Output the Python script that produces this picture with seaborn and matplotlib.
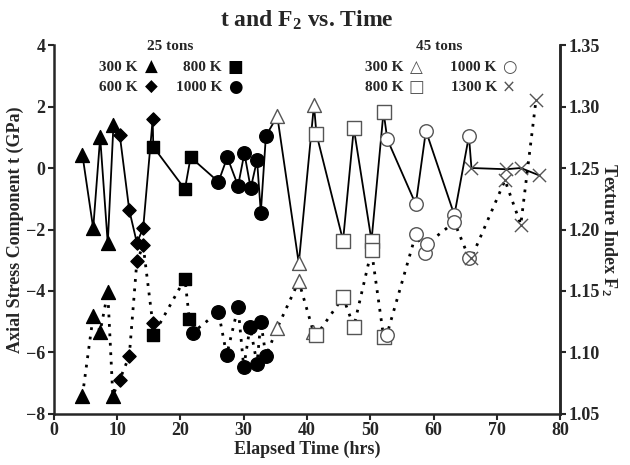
import numpy as np
import pandas as pd
import matplotlib
matplotlib.use('Agg')
import matplotlib.pyplot as plt
import seaborn as sns

# Axial stress t (GPa) vs elapsed time, with sample/temperature group
t_hrs = [4.5, 6.2, 7.3, 8.5, 9.4, 10.4, 11.9, 13.1, 14.1, 15.6, 15.7, 20.7, 21.6,
         26.0, 27.4, 29.1, 30.1, 31.1, 32.1, 32.7, 33.5,
         35.3, 38.7, 41.1, 41.5, 45.7, 47.4, 50.2, 52.1,
         52.7, 57.2, 58.8, 63.3, 65.6, 66.0, 71.5, 73.8, 76.6]
t_val = [0.42, -1.96, 1.0, -2.45, 1.40, 1.07, -1.37, -2.43, -1.96, 1.58, 0.69, -0.69, 0.35,
         -0.45, 0.35, -0.58, 0.48, -0.66, 0.26, -1.45, 1.04,
         1.69, -3.10, 2.05, 1.10, -2.36, 1.29, -2.36, 1.83,
         0.93, -1.18, 1.21, -1.53, 1.04, 0.0, -0.04, 0.0, -0.23]
t_grp = ['25-300'] * 5 + ['25-600'] * 5 + ['25-800'] * 3 + ['25-1000'] * 8 + \
        ['45-300'] * 3 + ['45-800'] * 5 + ['45-1000'] * 5 + ['45-1300'] * 4

# Texture index F2 vs elapsed time
f_hrs = [4.5, 6.2, 7.3, 8.5, 9.3, 10.4, 11.9, 13.1, 14.1, 15.6, 15.7, 20.7, 21.4,
         21.9, 26.0, 27.3, 29.1, 30.0, 31.0, 32.1, 32.7, 33.5,
         35.3, 38.7, 41.0, 41.5, 45.7, 47.4, 50.2, 52.1,
         52.6, 57.2, 58.6, 58.9, 63.3, 65.6, 66.0, 71.3, 73.8, 76.2]
f_val = [1.065, 1.130, 1.117, 1.149, 1.065, 1.078, 1.097, 1.174, 1.187, 1.124, 1.114, 1.160, 1.127,
         1.116, 1.133, 1.098, 1.137, 1.088, 1.121, 1.091, 1.125, 1.097,
         1.120, 1.158, 1.117, 1.114, 1.145, 1.121, 1.183, 1.113,
         1.114, 1.196, 1.181, 1.188, 1.206, 1.177, 1.177, 1.240, 1.204, 1.305]
f_grp = ['25-300'] * 5 + ['25-600'] * 5 + ['25-800'] * 3 + ['25-1000'] * 9 + \
        ['45-300'] * 3 + ['45-800'] * 5 + ['45-1000'] * 6 + ['45-1300'] * 4

# marker, face colour, edge colour, size
styles = {
    '25-300': ('^', 'black', 'black', 100),
    '25-600': ('D', 'black', 'black', 45),
    '25-800': ('s', 'black', 'black', 85),
    '25-1000': ('o', 'black', 'black', 95),
    '45-300': ('^', 'white', '#555555', 100),
    '45-800': ('s', 'white', '#555555', 90),
    '45-1000': ('o', 'white', '#555555', 95),
    '45-1300': ('x', '#555555', '#555555', 90),
}

df_t = pd.DataFrame({'hrs': t_hrs, 'val': t_val, 'grp': t_grp})
df_f = pd.DataFrame({'hrs': f_hrs, 'val': f_val, 'grp': f_grp})

sns.set_style('ticks')
plt.rcParams['font.family'] = ['Liberation Serif', 'DejaVu Sans']
plt.rcParams['font.weight'] = 'bold'
plt.rcParams['mathtext.fontset'] = 'custom'
plt.rcParams['mathtext.rm'] = 'Liberation Serif:bold'
plt.rcParams['mathtext.it'] = 'Liberation Serif:bold'

fig = plt.figure(figsize=(6.3, 4.65), dpi=100)
ax = fig.add_axes([0.0857, 0.1097, 0.8032, 0.7935])
ax2 = ax.twinx()


def draw(a, df, ls, lw):
    sns.lineplot(data=df, x='hrs', y='val', sort=False, estimator=None, color='black',
                 linestyle=ls, linewidth=lw, ax=a, zorder=2)
    for g, (m, fc, ec, s) in styles.items():
        sub = df[df['grp'] == g]
        if m == 'x':
            a.scatter(sub['hrs'], sub['val'], marker=m, s=s, c=fc, linewidths=1.0, zorder=3)
        else:
            a.scatter(sub['hrs'], sub['val'], marker=m, s=s, facecolors=fc, edgecolors=ec,
                      linewidths=1.0, zorder=3)


draw(ax, df_t, '-', 1.3)
draw(ax2, df_f, (0, (1, 2.4)), 2.0)

ax.set_xlim(0, 80)
ax.set_ylim(-8, 4)
ax2.set_ylim(1.05, 1.35)
ax.set_xticks(range(0, 81, 10))
ax.set_yticks(range(-8, 5, 2))
ax2.set_yticks([1.05, 1.10, 1.15, 1.20, 1.25, 1.30, 1.35])
ax2.set_yticklabels(['1.05', '1.10', '1.15', '1.20', '1.25', '1.30', '1.35'])

for a in (ax, ax2):
    a.spines['top'].set_visible(False)
    for sp in a.spines.values():
        sp.set_linewidth(1.8)
    a.tick_params(labelsize=13, width=1.5, length=4, pad=2)
ax2.spines['left'].set_visible(False)
ax2.spines['bottom'].set_visible(False)

ax.set_xlabel('Elapsed Time (hrs)', fontsize=13, fontweight='bold', labelpad=1)
ax.set_ylabel('Axial Stress Component t (GPa)', fontsize=13, fontweight='bold', labelpad=2)
ax2.set_ylabel('Texture Index F$_2$', fontsize=13, fontweight='bold', rotation=270, labelpad=14)
ax.set_title('t and F$_2$ vs. Time', fontsize=17, fontweight='bold', pad=13)

# legend blocks written as text
lfs = 11
gfs = 12
tr = ax.transAxes
ax.text(0.229, 0.995, '25 tons', transform=tr, ha='center', va='center', fontsize=lfs)
ax.text(0.761, 0.995, '45 tons', transform=tr, ha='center', va='center', fontsize=lfs)
legend_rows = [
    (0.166, 0.192, 0.940, '300 K', '\u25B2', 'black'),
    (0.332, 0.358, 0.940, '800 K', '\u25A0', 'black'),
    (0.166, 0.192, 0.886, '600 K', '\u25C6', 'black'),
    (0.332, 0.358, 0.886, '1000 K', '\u25CF', 'black'),
    (0.690, 0.717, 0.940, '300 K', '\u25B3', '#555555'),
    (0.875, 0.899, 0.940, '1000 K', '\u25CB', '#555555'),
    (0.690, 0.717, 0.886, '800 K', '\u25A1', '#555555'),
    (0.875, 0.899, 0.886, '1300 K', '\u00D7', '#555555'),
]
for xl, xg, y, lab, glyph, col in legend_rows:
    ax.text(xl, y, lab, transform=tr, ha='right', va='center', fontsize=lfs)
    ax.text(xg, y, glyph, transform=tr, ha='center', va='center', fontsize=gfs,
            color=col, family='DejaVu Sans', fontweight='normal')

fig.savefig('out.png', dpi=100)
